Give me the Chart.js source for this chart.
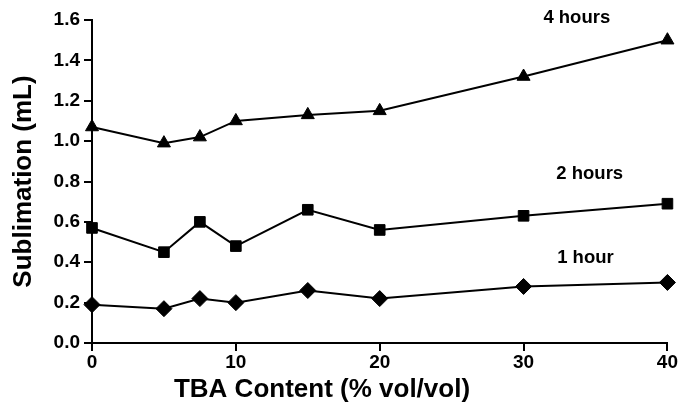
<!DOCTYPE html>
<html><head><meta charset="utf-8">
<script src="https://cdn.jsdelivr.net/npm/chart.js@4"></script>
<style>html,body{margin:0;padding:0;background:#fff}#wrap{width:678px;height:413px}</style>
</head><body><div id="wrap"><canvas id="c" width="678" height="413"></canvas></div>
<script>
const tbaContent = [0, 5, 7.5, 10, 15, 20, 30, 40];
const oneHour   = [0.19, 0.17, 0.22, 0.20, 0.26, 0.22, 0.28, 0.30];
const twoHours  = [0.57, 0.45, 0.60, 0.48, 0.66, 0.56, 0.63, 0.69];
const fourHours = [1.07, 0.99, 1.02, 1.10, 1.13, 1.15, 1.32, 1.50];
const seriesNames = ['1 hour', '2 hours', '4 hours'];
const seriesMarkers = ['rectRot', 'rect', 'triangle'];
const markerRadius = [8, 7.5, 7.5];
const labelPos = [[34.3, 0.42], [34.6, 0.84], [33.7, 1.61]];
const xTicks = [0, 10, 20, 30, 40];
const yTicks = [0, 0.2, 0.4, 0.6, 0.8, 1.0, 1.2, 1.4, 1.6];
const xTitle = 'TBA Content (% vol/vol)';
const yTitle = 'Sublimation (mL)';

const font = 'Liberation Sans, Arial, Helvetica, sans-serif';
const allSeries = [oneHour, twoHours, fourHours];
const datasets = allSeries.map((vals, i) => ({
  label: seriesNames[i],
  data: tbaContent.map((x, j) => ({x, y: vals[j]})),
  borderColor: '#000', backgroundColor: '#000', borderWidth: 2,
  pointStyle: seriesMarkers[i],
  pointRadius: markerRadius[i],
  pointBorderWidth: 1,
  tension: 0, clip: false
}));

const textPlugin = {
  id: 'seriesText',
  afterDatasetsDraw(chart) {
    const {ctx, chartArea, scales: {x, y}} = chart;
    ctx.save();
    ctx.fillStyle = '#000';
    ctx.font = 'bold 18.5px ' + font;
    ctx.textAlign = 'center'; ctx.textBaseline = 'middle';
    seriesNames.forEach((n, i) => {
      ctx.fillText(n, x.getPixelForValue(labelPos[i][0]), y.getPixelForValue(labelPos[i][1]));
    });
    ctx.font = 'bold 26px ' + font;
    ctx.fillText(xTitle, chartArea.left + 230, chartArea.bottom + 47);
    ctx.restore();
  }
};

new Chart(document.getElementById('c'), {
  type: 'line',
  data: {datasets},
  options: {
    responsive: false, animation: false,
    layout: {padding: {top: 20, right: 0, left: 4, bottom: 4}},
    plugins: {legend: {display: false}, tooltip: {enabled: false}},
    scales: {
      x: {
        type: 'linear', min: 0, max: 40,
        afterBuildTicks: s => { s.ticks = xTicks.map(v => ({value: v})); },
        afterFit: s => { s.height = 66; },
        ticks: {color: '#000', font: {family: font, size: 19, weight: 'bold'}, padding: 0, maxRotation: 0},
        grid: {drawOnChartArea: false, drawTicks: true, tickLength: 8, color: '#000', lineWidth: 2},
        border: {color: '#000', width: 2}
      },
      y: {
        min: 0, max: 1.6,
        afterBuildTicks: s => { s.ticks = yTicks.map(v => ({value: v})); },
        afterFit: s => { s.width = 88; },
        ticks: {color: '#000', font: {family: font, size: 19, weight: 'bold'}, padding: 4, callback: v => v.toFixed(1)},
        grid: {drawOnChartArea: false, drawTicks: true, tickLength: 8, color: '#000', lineWidth: 2},
        border: {color: '#000', width: 2},
        title: {display: true, text: yTitle, color: '#000', font: {family: font, size: 26, weight: 'bold'}, padding: {top: 4, bottom: 4}}
      }
    }
  },
  plugins: [textPlugin]
});
</script></body></html>
